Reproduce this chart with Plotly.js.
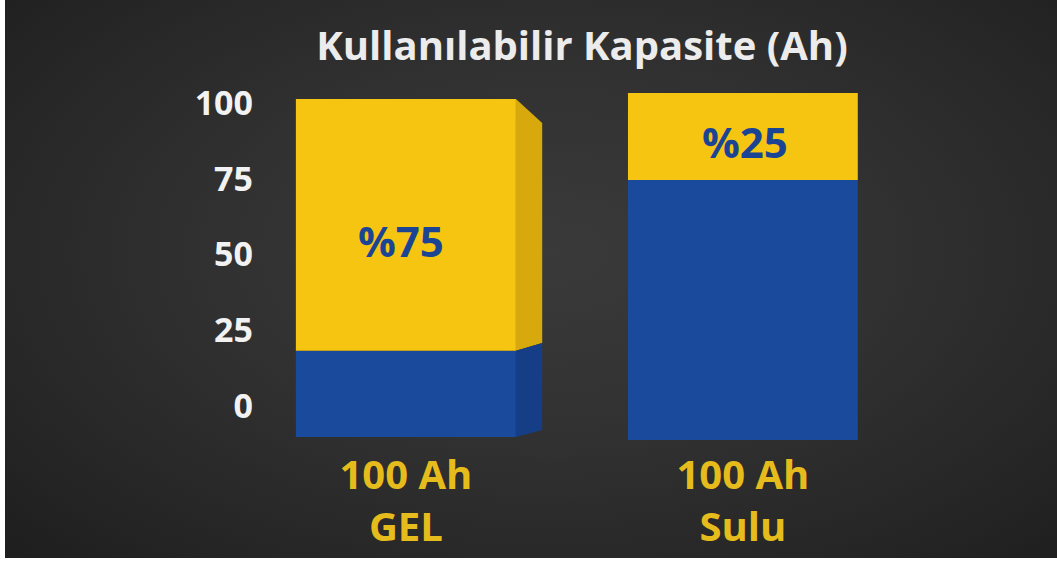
<!DOCTYPE html>
<html>
<head>
<meta charset="utf-8">
<script src="https://cdn.plot.ly/plotly-3.0.1.min.js"></script>
<style>
  html, body { margin: 0; padding: 0; overflow: hidden; background: #ffffff; }
  #wrap { position: relative; width: 1057px; height: 562px; }
  #chart { position: absolute; left: 0; top: 0; width: 1057px; height: 562px;
    background: radial-gradient(ellipse 70% 75% at 52% 45%, #3a3a3a 0%, #313131 45%, #262626 80%, #1f1f1f 100%); }
  .strip { position: absolute; background: #ffffff; pointer-events: none; }
</style>
</head>
<body>
<div id="wrap">
  <div id="chart"></div>
  <div class="strip" style="left:0;top:0;width:5px;height:562px;"></div>
  <div class="strip" style="left:0;top:558px;width:1057px;height:4px;"></div>
</div>
<script>
// ---- data ----
const categories = ["100 Ah<br>GEL", "100 Ah<br>Sulu"];
const xPos = [0, 1];
const barBottom = [-10.2, -11.2];     // lower edge of each battery bar
const unusableTop = [18.2, 74.6];     // top of the blue (unusable) part
const usableTop = [101.3, 103.3];     // top of the yellow (usable) part
const usableLabels = ["%75", "%25"];
const yTickVals = [0, 25, 50, 75, 100];
const yTickText = ["0", "25", "50", "75", "100"];
const titleText = "Kullanılabilir Kapasite (Ah)";

// ---- styles ----
const YELLOW = "#f6c512";
const YELLOW_SIDE = "#d8a90c";
const BLUE = "#1a4a9c";
const BLUE_SIDE = "#153e86";
const barWidths = [0.653, 0.682];
const FONT = "'Open Sans', Roboto, sans-serif";

const blueLen = unusableTop.map((v, i) => v - barBottom[i]);
const yellowLen = usableTop.map((v, i) => v - unusableTop[i]);

const traces = [
  {
    type: "bar", x: xPos, base: barBottom, y: blueLen, width: barWidths,
    marker: { color: BLUE, line: { width: 0 } }, hoverinfo: "skip", showlegend: false
  },
  {
    type: "bar", x: xPos, base: unusableTop, y: yellowLen, width: barWidths,
    marker: { color: YELLOW, line: { width: 0 } }, hoverinfo: "skip", showlegend: false
  }
];

// percentage labels inside the yellow parts
const annotations = xPos.map((x, i) => ({
  x: x - 0.015 + 0.02 * i, y: unusableTop[i] + 0.44 * yellowLen[i],
  xref: "x", yref: "y", text: usableLabels[i], showarrow: false,
  xanchor: "center", yanchor: "middle",
  font: { family: FONT, size: 42, color: "#1b4594", weight: "bold" }
}));

// 3D side face of the first (GEL) bar, derived from its data
const d = 0.078;             // depth of side face in x units
const xr = xPos[0] + barWidths[0] / 2;
const topShift = -7.9, midShift = 2.6, botShift = 2.3;
const shapes = [
  {
    type: "path", xref: "x", yref: "y", layer: "above", line: { width: 0 },
    fillcolor: YELLOW_SIDE,
    path: `M ${xr} ${usableTop[0]} L ${xr + d} ${usableTop[0] + topShift} L ${xr + d} ${unusableTop[0] + midShift} L ${xr} ${unusableTop[0]} Z`
  },
  {
    type: "path", xref: "x", yref: "y", layer: "above", line: { width: 0 },
    fillcolor: BLUE_SIDE,
    path: `M ${xr} ${unusableTop[0]} L ${xr + d} ${unusableTop[0] + midShift} L ${xr + d} ${barBottom[0] + botShift} L ${xr} ${barBottom[0]} Z`
  }
];

const layout = {
  width: 1057, height: 562,
  paper_bgcolor: "rgba(0,0,0,0)", plot_bgcolor: "rgba(0,0,0,0)",
  margin: { l: 262, r: 57, t: 88, b: 117 },
  barmode: "overlay",
  title: {
    text: titleText, x: 582 / 1057, xanchor: "center", xref: "container",
    y: 1 - 46 / 562, yref: "container", yanchor: "middle",
    font: { family: FONT, size: 40, color: "#ececec", weight: "bold" }
  },
  xaxis: {
    range: [-0.427, 1.763], tickvals: xPos, ticktext: categories,
    showgrid: false, zeroline: false, showline: false, ticks: "",
    ticklabelstandoff: 3,
    tickfont: { family: FONT, size: 40, color: "#e6bc1c", weight: "bold" },
    fixedrange: true
  },
  yaxis: {
    range: [-12.87, 104.95], tickvals: yTickVals, ticktext: yTickText,
    showgrid: false, zeroline: false, showline: false, ticks: "",
    ticklabelstandoff: 8,
    tickfont: { family: FONT, size: 34, color: "#f2f2f2", weight: "bold" },
    fixedrange: true
  },
  shapes: shapes,
  annotations: annotations
};

Plotly.newPlot("chart", traces, layout, { displayModeBar: false, staticPlot: true });
</script>
</body>
</html>
